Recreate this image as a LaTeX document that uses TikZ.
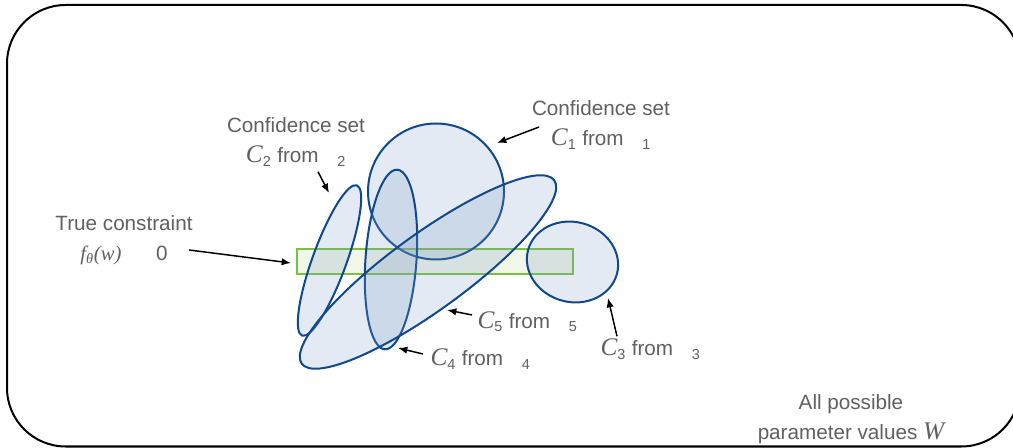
\documentclass[tikz,border=0pt]{standalone}
\usepackage{fontspec}
\setmainfont{Liberation Sans}
\newfontfamily\mathserif{Liberation Serif}
\usetikzlibrary{calc,arrows.meta,shapes.geometric}

\definecolor{setblue}{RGB}{16,72,142}
\definecolor{setfill}{RGB}{122,155,198}
\definecolor{limegreen}{RGB}{122,193,66}
\definecolor{palegreen}{RGB}{240,246,232}
\definecolor{labelgray}{RGB}{96,96,96}

\newcommand{\mv}[1]{{\mathserif\itshape\fontsize{19}{19}\selectfont #1}}
\newcommand{\setfrom}[1]{\mv{C}\textsubscript{#1} from\hspace{14pt}\textsubscript{#1}}

\tikzset{every picture/.style={line width=0.75pt}}

\begin{document}
\begin{tikzpicture}[x=0.75pt,y=0.75pt,yscale=-1,xscale=1,
	conf/.style={ellipse,draw=setblue,line width=1.5pt,fill=setfill,fill opacity=0.21,inner sep=0pt},
	feasible/.style={draw=limegreen,line width=1.5pt,fill=palegreen,inner sep=0pt},
	lbl/.style={text=labelgray,inner sep=0pt,align=center,font=\fontsize{15.5}{22.5}\selectfont},
	pointer/.style={draw=black,line width=1.1pt,-{Latex[length=7pt,width=5.5pt]}}]
	\useasboundingbox (0,0) rectangle (1013,448);
	
	%Outer frame, runs past the right edge
	\draw [line width=1.5pt,rounded corners=44pt] (7,5) rectangle (1020,446.5);
	
	%True constraint strip
	\node [feasible,minimum width=207pt,minimum height=18.75pt] (strip) at (435,261.5) {};
	
	%Confidence sets
	\node [conf,minimum size=102pt] (c1) at (436,191.5) {};
	\node [conf,minimum width=120pt,minimum height=25.5pt,rotate=70] (c2) at (329.5,260.5) {};
	\node [conf,minimum width=69pt,minimum height=60pt,rotate=-15] (c3) at (572.5,262) {};
	\node [conf,minimum width=135pt,minimum height=38.25pt,rotate=86] (c4) at (391,259.5) {};
	\node [conf,minimum width=234pt,minimum height=57pt,rotate=36] (c5) at (428,272) {};
	
	%Arrow tips
	\coordinate (tip1) at (497,143);
	\coordinate (tip2) at (329,193);
	\coordinate (tip3) at (608,298);
	\coordinate (tip4) at (398,348);
	\coordinate (tip5) at (447,310);
	
	% Text Nodes
	\node [lbl] (lbl1) at (601,125) {Confidence set\\\setfrom{1}};
	\node [lbl] (lbl2) at (296,142) {Confidence set\\\setfrom{2}};
	\node [lbl] (lbltc) at (124,240) {True constraint\\{\mathserif\itshape\fontsize{15.5}{19}\selectfont f\textsubscript{θ}(w)}\hspace{26pt}0};
	\node [lbl,anchor=west] (lbl3) at (600,349) {\setfrom{3}};
	\node [lbl,anchor=west] (lbl4) at (430,359) {\setfrom{4}};
	\node [lbl,anchor=west] (lbl5) at (477,322) {\setfrom{5}};
	\node [lbl] (lblw) at (851,419) {All possible\\parameter values \mv{W}};
	
	% Arrows
	\draw [pointer] ($(lbl1.west)+(7.5,2)$) -- (tip1);
	\draw [pointer] ($(lbl2.south)+(22,5)$) -- (tip2);
	\draw [pointer] ($(lbltc.east)+(-4,10)$) -- ($(strip.west)+(-5,1.5)$);
	\draw [pointer] ($(lbl3.north west)+(17,-2)$) -- (tip3);
	\draw [pointer] ($(lbl4.west)+(-7,-5)$) -- (tip4);
	\draw [pointer] ($(lbl5.west)+(-5,-7)$) -- (tip5);
	
\end{tikzpicture}
\end{document}
